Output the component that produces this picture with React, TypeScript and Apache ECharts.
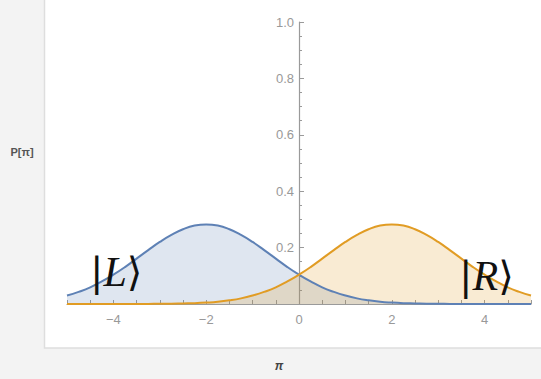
import React, { useEffect, useRef } from "react";
import * as echarts from "echarts";

const xValues = [
  -5, -4.75, -4.5, -4.25, -4, -3.75, -3.5, -3.25, -3, -2.75, -2.5, -2.25, -2,
  -1.75, -1.5, -1.25, -1, -0.75, -0.5, -0.25, 0, 0.25, 0.5, 0.75, 1, 1.25, 1.5,
  1.75, 2, 2.25, 2.5, 2.75, 3, 3.25, 3.5, 3.75, 4, 4.25, 4.5, 4.75, 5,
];

const leftState = [
  0.030, 0.043, 0.059, 0.080, 0.104, 0.131, 0.161, 0.191, 0.220, 0.245, 0.265,
  0.278, 0.282, 0.278, 0.265, 0.245, 0.220, 0.191, 0.161, 0.131, 0.104, 0.080,
  0.059, 0.043, 0.030, 0.020, 0.013, 0.008, 0.005, 0.003, 0.002, 0.001, 0.001,
  0.000, 0.000, 0.000, 0.000, 0.000, 0.000, 0.000, 0.000,
];

const rightState = [
  0.000, 0.000, 0.000, 0.000, 0.000, 0.000, 0.000, 0.000, 0.001, 0.001, 0.002,
  0.003, 0.005, 0.008, 0.013, 0.020, 0.030, 0.043, 0.059, 0.080, 0.104, 0.131,
  0.161, 0.191, 0.220, 0.245, 0.265, 0.278, 0.282, 0.278, 0.265, 0.245, 0.220,
  0.191, 0.161, 0.131, 0.104, 0.080, 0.059, 0.043, 0.030,
];

const xLabels = [-4, -2, 0, 2, 4];
const yLabels = [0.2, 0.4, 0.6, 0.8, 1.0];

const BLUE = "#5e81b5";
const ORANGE = "#e19c24";

export default function App() {
  const ref = useRef<HTMLDivElement>(null);

  useEffect(() => {
    if (!ref.current) return;
    const chart = echarts.init(ref.current, null, { renderer: "svg" });
    const labelColor = "#999999";
    const axisColor = "#9a9a9a";
    const gridLeft = 67;
    const gridRight = 10;
    const plotWidth = 541 - gridLeft - gridRight;
    chart.setOption({
      animation: false,
      backgroundColor: "#f3f3f3",
      grid: { left: gridLeft, right: gridRight, top: 22, bottom: 75, containLabel: false },
      xAxis: {
        type: "value",
        min: -5,
        max: 5,
        interval: 0.5,
        axisLine: { onZero: true, lineStyle: { color: axisColor, width: 1.2 } },
        axisTick: { show: true, inside: true, length: 4, lineStyle: { color: axisColor } },
        splitLine: { show: false },
        axisLabel: {
          color: labelColor,
          fontSize: 13,
          fontFamily: "Liberation Sans, Arial, sans-serif",
          margin: 9,
          formatter: (v: number) => {
            const r = Math.round(v * 100) / 100;
            if (!xLabels.includes(r)) return "";
            return r < 0 ? "\u2212" + Math.abs(r) : String(r);
          },
        },
      },
      yAxis: {
        type: "value",
        min: 0,
        max: 1,
        interval: 0.2,
        position: "left",
        offset: -plotWidth / 2,
        axisLine: { show: true, onZero: false, lineStyle: { color: axisColor, width: 1.2 } },
        axisTick: { show: true, inside: true, length: 5, lineStyle: { color: axisColor } },
        minorTick: { show: true, splitNumber: 4, length: 3, lineStyle: { color: axisColor } },
        splitLine: { show: false },
        axisLabel: {
          color: labelColor,
          fontSize: 13,
          fontFamily: "Liberation Sans, Arial, sans-serif",
          margin: 5,
          formatter: (v: number) => {
            const r = Math.round(v * 100) / 100;
            if (!yLabels.includes(r)) return "";
            return r.toFixed(1);
          },
        },
      },
      graphic: [
        {
          type: "rect",
          z: -10,
          shape: { x: 44.5, y: -2, width: 500, height: 350 },
          style: { fill: "#ffffff", stroke: "#dedede", lineWidth: 1.5 },
        },
        {
          type: "text",
          x: 22,
          y: 152,
          style: {
            text: "P[\u03c0]",
            fill: "#555555",
            font: "bold 11px Liberation Sans, Arial, sans-serif",
            textAlign: "center",
            textVerticalAlign: "middle",
          },
        },
        {
          type: "text",
          x: 279,
          y: 366,
          style: {
            text: "\u03c0",
            fill: "#444444",
            font: "italic bold 12px Liberation Sans, Arial, sans-serif",
            textAlign: "center",
            textVerticalAlign: "middle",
          },
        },
        {
          type: "text",
          x: 90,
          y: 251,
          z: 10,
          style: {
            text: "{a||}{b|L}{a|\u27e9}",
            rich: {
              a: { fontFamily: "DejaVu Serif", fontSize: 40, fill: "#111", fontWeight: 100 },
              b: { fontFamily: "Liberation Serif", fontStyle: "italic", fontSize: 42, fill: "#111" },
            },
          },
        },
        {
          type: "text",
          x: 459,
          y: 255,
          z: 10,
          style: {
            text: "{a||}{b|R}{a|\u27e9}",
            rich: {
              a: { fontFamily: "DejaVu Serif", fontSize: 40, fill: "#111", fontWeight: 100 },
              b: { fontFamily: "Liberation Serif", fontStyle: "italic", fontSize: 42, fill: "#111" },
            },
          },
        },
      ],
      series: [
        {
          name: "L",
          type: "line",
          smooth: true,
          showSymbol: false,
          data: xValues.map((x, i) => [x, leftState[i]]),
          lineStyle: { color: BLUE, width: 2 },
          itemStyle: { color: BLUE },
          areaStyle: { color: BLUE, opacity: 0.2 },
          z: 3,
        },
        {
          name: "R",
          type: "line",
          smooth: true,
          showSymbol: false,
          data: xValues.map((x, i) => [x, rightState[i]]),
          lineStyle: { color: ORANGE, width: 2 },
          itemStyle: { color: ORANGE },
          areaStyle: { color: ORANGE, opacity: 0.2 },
          z: 3,
        },
      ],
    });
    return () => chart.dispose();
  }, []);

  return (
    <div
      ref={ref}
      style={{ position: "fixed", left: 0, top: 0, width: 541, height: 379 }}
    />
  );
}
